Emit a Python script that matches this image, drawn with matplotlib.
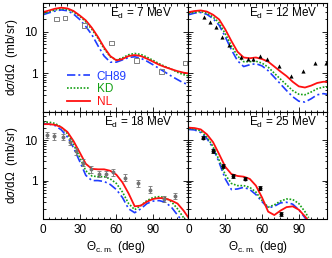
#!/usr/bin/env python3
"""Four-panel (d,p) angular distributions: CH89 / KD / NL potentials vs data."""

import matplotlib
matplotlib.use("Agg")
import matplotlib.pyplot as plt
from matplotlib.ticker import FuncFormatter, LogLocator, MultipleLocator, NullFormatter

plt.rcParams["font.family"] = ["Liberation Sans", "DejaVu Sans"]
plt.rcParams["mathtext.fontset"] = "custom"
plt.rcParams["mathtext.rm"] = "Liberation Sans"
plt.rcParams["mathtext.it"] = "Liberation Sans:italic"

# ---- 7 MeV ----
ang_7 = [0, 5, 10, 15, 20, 25, 30, 35, 40, 45, 50, 55, 60, 65, 70, 75, 80, 85, 90, 95, 100, 105, 110, 115, 120]
nl_7 = [30, 33, 36.5, 38.5, 37, 32, 25, 19, 12.5, 7.5, 4.2, 2.6, 2.05, 2.2, 2.6, 2.75, 2.6, 2.25, 1.9, 1.6, 1.4, 1.25, 1.12, 1.03, 0.98]
kd_7 = [27, 31, 34, 36, 35, 30, 24, 17.5, 11.5, 7, 3.9, 2.5, 2.1, 2.35, 2.8, 3.0, 2.85, 2.45, 2.05, 1.7, 1.45, 1.25, 1.05, 0.92, 0.85]
ch_7 = [26, 29, 32, 34, 32.5, 27, 20, 13.5, 8.5, 4.6, 2.6, 1.85, 1.85, 2.1, 2.4, 2.5, 2.3, 1.95, 1.6, 1.3, 1.05, 0.85, 0.7, 0.58, 0.52]
exp_ang_7 = [11, 18, 34, 56, 76.5, 97, 116]
exp_val_7 = [20.7, 22, 14.2, 5.4, 2.03, 1.1, 1.75]

# ---- 12 MeV ----
ang_12 = [0, 5, 10, 15, 20, 25, 30, 35, 40, 45, 50, 55, 60, 65, 70, 75, 80, 85, 90, 95, 100, 105, 110, 113]
nl_12 = [30, 32, 33, 31, 26, 20, 11.5, 6.0, 3.3, 2.4, 2.3, 2.4, 2.2, 1.9, 1.45, 1.1, 0.85, 0.62, 0.48, 0.45, 0.5, 0.58, 0.62, 0.62]
kd_12 = [28, 30, 31, 28.5, 23, 16.5, 9.0, 4.6, 2.6, 1.9, 1.9, 1.95, 1.75, 1.4, 1.0, 0.72, 0.52, 0.38, 0.31, 0.3, 0.35, 0.42, 0.46, 0.46]
ch_12 = [26, 28.5, 29.5, 26.5, 21, 14.5, 7.6, 3.7, 2.0, 1.45, 1.6, 1.7, 1.5, 1.15, 0.8, 0.55, 0.38, 0.27, 0.21, 0.2, 0.24, 0.3, 0.32, 0.31]
exp_ang_12 = [13, 17.6, 22.5, 27.4, 32.8, 43, 48.4, 53, 58.4, 64, 73.7, 83.8, 93.3, 103, 112]
exp_val_12 = [23, 17, 13, 7.5, 4.7, 2.45, 2.2, 2.25, 2.65, 2.15, 1.53, 0.86, 1.14, 1.75, 1.8]

# ---- 18 MeV ----
ang_18 = [0, 5, 10, 15, 20, 25, 30, 35, 40, 45, 50, 55, 60, 65, 70, 75, 80, 85, 90, 95, 100, 105, 110, 115, 119]
nl_18 = [25, 25, 24, 21, 16, 9.5, 5.0, 2.6, 1.95, 1.9, 1.9, 1.75, 1.4, 0.9, 0.48, 0.23, 0.24, 0.3, 0.35, 0.37, 0.36, 0.32, 0.27, 0.18, 0.12]
kd_18 = [28, 28, 26, 21, 14.5, 8, 3.8, 1.75, 1.3, 1.25, 1.25, 1.1, 0.85, 0.52, 0.27, 0.19, 0.24, 0.32, 0.38, 0.4, 0.38, 0.3, 0.2, 0.12, 0.09]
ch_18 = [26, 25, 23, 18, 12, 6.5, 3.0, 1.35, 1.0, 1.0, 0.95, 0.8, 0.6, 0.38, 0.2, 0.16, 0.2, 0.27, 0.31, 0.32, 0.29, 0.22, 0.14, 0.09, 0.07]
exp_ang_18 = [3.5, 9, 16, 22, 27, 33, 39, 46, 51.5, 57.5, 67, 78, 87.5, 99, 108]
exp_val_18 = [13.5, 12.5, 12, 9, 5.3, 2.8, 1.9, 1.45, 1.45, 1.6, 1.18, 0.85, 0.6, 0.35, 0.42]

# ---- 25 MeV ----
ang_25 = [0, 5, 10, 15, 20, 25, 30, 35, 40, 45, 50, 55, 60, 65, 70, 75, 80, 85, 90, 95, 98]
nl_25 = [20.5, 20, 18.5, 14, 9, 4.5, 2.2, 1.45, 1.3, 1.25, 1.1, 0.75, 0.38, 0.17, 0.14, 0.18, 0.22, 0.23, 0.19, 0.13, 0.1]
kd_25 = [19.5, 19, 17, 12, 7, 3.2, 1.4, 0.85, 0.75, 0.75, 0.68, 0.52, 0.32, 0.22, 0.25, 0.31, 0.35, 0.34, 0.27, 0.17, 0.12]
ch_25 = [18.5, 18, 15.5, 11, 6.5, 2.8, 1.1, 0.6, 0.62, 0.68, 0.6, 0.45, 0.3, 0.21, 0.23, 0.28, 0.29, 0.26, 0.19, 0.12, 0.09]
exp_ang_25 = [11.6, 19.8, 28, 36.6, 46.4, 58.4, 75.6]
exp_val_25 = [11.6, 5.3, 2.28, 1.3, 1.12, 0.64, 0.15]

BLUE = "#1f3cff"
GREEN = "#14a014"
RED = "#ff1010"
W, H = 332, 258


def _axes(fig, x0, x1, y0, y1):
    return fig.add_axes([x0 / W, 1 - y1 / H, (x1 - x0) / W, (y1 - y0) / H])


def _curves(ax, ang, ch, kd, nl, with_labels=False):
    ax.plot(ang, ch, color=BLUE, lw=1.2, dashes=(5, 1.8, 1.2, 1.8), label="CH89" if with_labels else None)
    ax.plot(ang, kd, color=GREEN, lw=1.2, ls=(0, (1, 1)), label="KD" if with_labels else None)
    ax.plot(ang, nl, color=RED, lw=1.3, label="NL" if with_labels else None)


def _style(ax, xmax, left, bottom, text, tx):
    ax.set_yscale("log")
    ax.set_xlim(0, xmax)
    ax.set_ylim(0.115, 50)
    ax.xaxis.set_major_locator(MultipleLocator(30))
    ax.xaxis.set_minor_locator(MultipleLocator(5))
    ax.yaxis.set_major_locator(LogLocator(base=10))
    ax.yaxis.set_minor_locator(LogLocator(base=10, subs=range(2, 10)))
    ax.yaxis.set_minor_formatter(NullFormatter())
    ax.yaxis.set_major_formatter(FuncFormatter(lambda v, _: f"{v:g}"))
    ax.tick_params(which="both", direction="in", top=True, right=True, labelsize=8.5,
                   labelleft=left, labelbottom=bottom, width=0.6)
    ax.tick_params(which="major", length=3.5, pad=4)
    ax.tick_params(which="minor", length=1.8)
    for spine in ax.spines.values():
        spine.set_linewidth(0.8)
    ax.text(tx, 0.90, text, transform=ax.transAxes, ha="right", va="center", fontsize=8.5)
    if left:
        ax.set_ylabel(r"d$\sigma$/d$\Omega$  (mb/sr)", fontsize=8.5, labelpad=3)
    if bottom:
        ax.set_xlabel(r"$\Theta_{\rm c.m.}$ (deg)", fontsize=8.5, labelpad=2)


fig = plt.figure(figsize=(W / 100, H / 100), dpi=100)

ax7 = _axes(fig, 43, 188.5, 3, 112)
_curves(ax7, ang_7, ch_7, kd_7, nl_7, with_labels=True)
ax7.scatter(exp_ang_7, exp_val_7, marker="s", s=10, facecolors="none", edgecolors="0.5", linewidths=0.7, zorder=4)
_style(ax7, 119, True, False, r"E$_{\rm d}$ = 7 MeV", 0.89)
leg = ax7.legend(loc="lower left", bbox_to_anchor=(0.125, -0.015), frameon=False, fontsize=8.5,
                 handlelength=1.9, handletextpad=0.6, labelspacing=0.05, borderpad=0,
                 labelcolor="linecolor")

ax12 = _axes(fig, 188.5, 327, 3, 112)
_curves(ax12, ang_12, ch_12, kd_12, nl_12)
ax12.scatter(exp_ang_12, exp_val_12, marker="^", s=9, color="black", linewidths=0, zorder=4)
_style(ax12, 113, False, False, r"E$_{\rm d}$ = 12 MeV", 0.93)

ax18 = _axes(fig, 43, 188.5, 112, 218.5)
_curves(ax18, ang_18, ch_18, kd_18, nl_18)
ax18.errorbar(exp_ang_18, exp_val_18, yerr=[[v * 0.17 for v in exp_val_18], [v * 0.2 for v in exp_val_18]],
              fmt="o", ms=1.8, color="0.45", elinewidth=0.6, capsize=1.2, capthick=0.6, zorder=4)
_style(ax18, 119, True, True, r"E$_{\rm d}$ = 18 MeV", 0.89)

ax25 = _axes(fig, 188.5, 327, 112, 218.5)
_curves(ax25, ang_25, ch_25, kd_25, nl_25)
ax25.errorbar(exp_ang_25, exp_val_25, yerr=[[v * 0.1 for v in exp_val_25], [v * 0.12 for v in exp_val_25]],
              fmt="o", ms=1.8, color="black", elinewidth=0.6, capsize=1.2, capthick=0.6, zorder=4)
_style(ax25, 113, False, True, r"E$_{\rm d}$ = 25 MeV", 0.93)

fig.savefig("out.png", dpi=100)
